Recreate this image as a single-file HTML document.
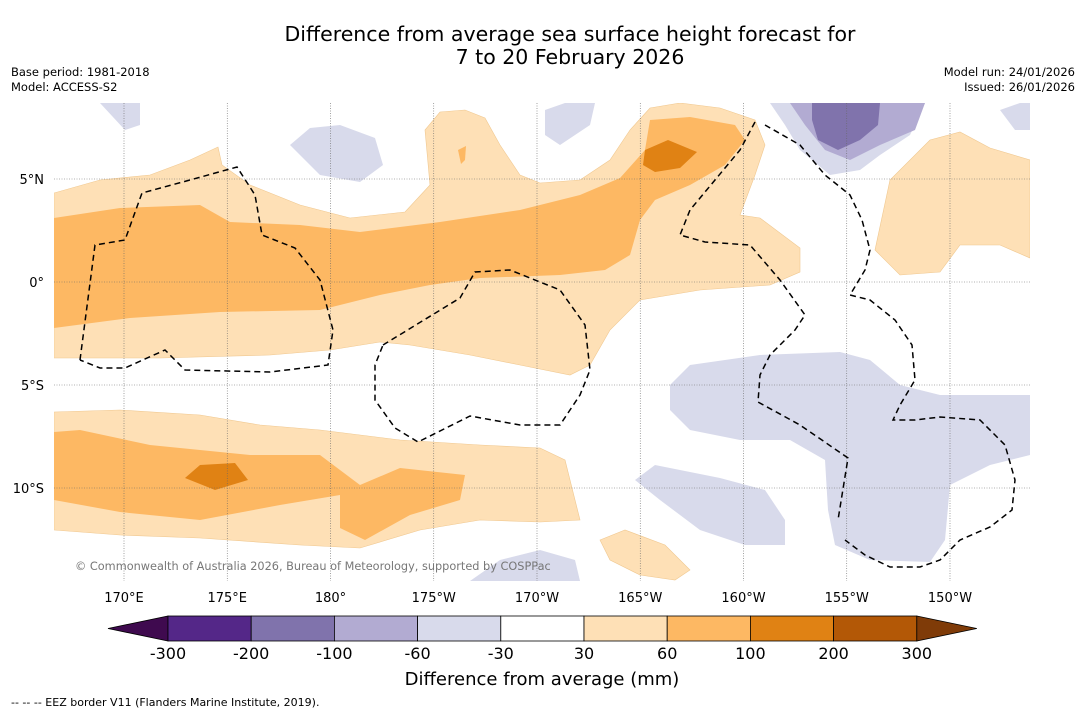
<!DOCTYPE html>
<html><head><meta charset="utf-8"><style>
body{margin:0;background:#fff;font-family:"DejaVu Sans","Liberation Sans",sans-serif;}
svg{display:block}
</style></head><body>
<svg id="root" width="1085" height="713" viewBox="0 0 1085 713" xmlns="http://www.w3.org/2000/svg">
<rect width="1085" height="713" fill="#fff"/>
<text x="570" y="41" font-size="20.5" text-anchor="middle">Difference from average sea surface height forecast for</text>
<text x="570" y="64" font-size="20.5" text-anchor="middle">7 to 20 February 2026</text>
<text x="11" y="76" font-size="11.5">Base period: 1981-2018</text>
<text x="11" y="91" font-size="11.5">Model: ACCESS-S2</text>
<text x="1075" y="76" font-size="11.5" text-anchor="end">Model run: 24/01/2026</text>
<text x="1075" y="91" font-size="11.5" text-anchor="end">Issued: 26/01/2026</text>
<g id="map">
<clipPath id="mc"><rect x="54" y="103" width="976" height="478"/></clipPath>
<g clip-path="url(#mc)">
<g id="fills"></g>
<g id="grid"></g>
<g id="eez" fill="none" stroke="#000" stroke-width="1.5" stroke-dasharray="6,4"></g>
</g>
<text x="75" y="570" font-size="11.3" fill="#777">© Commonwealth of Australia 2026, Bureau of Meteorology, supported by COSPPac</text>
<g id="axes" font-size="13"></g>
</g>
<g id="cbar"></g>
<text x="542" y="685" font-size="18" text-anchor="middle">Difference from average (mm)</text>
<text x="11" y="706" font-size="11">--  --  -- EEZ border V11 (Flanders Marine Institute, 2019).</text>
</svg>
<script>
const levels=[-300,-200,-100,-60,-30,30,60,100,200,300];
const levelColors=["#542788","#8073ac","#b2abd2","#d8daeb","#ffffff","#fee0b6","#fdb863","#e08214","#b35806"];
const lonTicks=[170,175,180,-175,-170,-165,-160,-155,-150];
const lonLabels=["170°E","175°E","180°","175°W","170°W","165°W","160°W","155°W","150°W"];
const latTicks=[5,0,-5,-10];
const latLabels=["5°N","0°","5°S","10°S"];
const NS="http://www.w3.org/2000/svg";
function lx(lon){let l=lon<0?lon+360:lon;return 124+(l-170)*20.65;}
function ly(lat){return 282-lat*20.6;}
function mk(tag,attrs,parent){const e=document.createElementNS(NS,tag);for(const k in attrs)e.setAttribute(k,attrs[k]);parent.appendChild(e);return e;}
const fills=document.getElementById('fills');
const shapes=[
["#fee0b6","54,193 100,180 150,175 190,160 218,147 222,165 250,185 300,205 350,218 405,212 430,185 425,130 440,112 465,110 485,118 500,145 520,175 540,183 580,180 610,160 630,130 650,108 680,103 720,108 755,120 765,145 755,175 740,215 760,218 800,248 800,272 770,285 700,290 640,300 610,330 590,365 570,375 520,365 470,355 410,345 380,342 330,350 270,355 160,358 100,358 54,358"],
["#fdb863","54,218 120,208 200,205 230,222 300,225 360,232 440,222 520,210 580,195 620,178 645,150 650,120 690,117 735,125 745,140 725,165 690,185 655,200 640,220 630,255 605,270 560,275 480,278 430,285 380,295 320,310 220,312 130,318 54,328"],
["#e08214","645,150 668,140 697,152 680,168 655,172 643,165"],
["#fdb863","458,150 466,146 465,160 461,164"],
["#fee0b6","54,412 120,410 200,415 260,425 320,430 400,440 480,445 540,448 565,460 580,520 540,522 480,520 420,530 360,548 300,545 200,538 120,535 54,530"],
["#fdb863","54,432 80,430 150,445 250,455 320,455 360,485 400,468 465,475 460,500 410,515 365,540 340,528 340,495 280,505 200,520 120,512 54,500"],
["#e08214","185,478 200,465 235,463 248,480 215,490"],
["#fee0b6","600,540 625,530 665,545 690,570 675,580 640,575 610,560"],
["#fee0b6","875,250 890,180 930,140 960,132 990,148 1030,160 1030,258 1000,245 960,245 940,272 900,275"],
["#d8daeb","290,145 310,128 340,125 375,138 383,165 360,182 320,175"],
["#d8daeb","545,110 565,103 595,103 590,125 560,145 545,135"],
["#d8daeb","770,103 925,103 910,135 880,155 860,170 830,175 800,150 785,125"],
["#b2abd2","790,103 925,103 915,130 880,145 850,160 825,150 805,125"],
["#8073ac","812,103 880,103 878,125 860,140 838,150 818,140 812,120"],
["#d8daeb","670,385 690,365 760,355 840,352 870,360 900,385 940,395 990,395 1030,395 1030,455 990,465 950,485 945,540 930,562 870,560 835,545 828,510 825,460 790,440 740,440 690,430 670,410"],
["#d8daeb","635,480 655,465 680,470 720,478 765,490 785,520 785,545 745,545 700,530 660,500"],
["#d8daeb","100,103 140,103 140,125 125,130"],
["#d8daeb","1000,110 1020,103 1030,103 1030,130 1015,130"],
["#d8daeb","470,581 500,560 540,550 575,560 580,581"]
];
shapes.forEach((s,i)=>{const p=mk('polygon',{points:s[1],fill:s[0],stroke:s[0]==="#fee0b6"?"#f0c890":"none","stroke-width":0.6},fills);

});
const grid=document.getElementById('grid'),axes=document.getElementById('axes');
lonTicks.forEach((t,i)=>{const x=lx(t);mk('line',{x1:x,x2:x,y1:103,y2:581,stroke:"#666","stroke-width":0.6,"stroke-dasharray":"1,1.5"},grid);
const tx=mk('text',{x:x,y:602,"text-anchor":"middle"},axes);tx.textContent=lonLabels[i];

});
latTicks.forEach((t,i)=>{const y=ly(t);mk('line',{x1:54,x2:1030,y1:y,y2:y,stroke:"#666","stroke-width":0.6,"stroke-dasharray":"1,1.5"},grid);
const tx=mk('text',{x:44,y:y+5,"text-anchor":"end"},axes);tx.textContent=latLabels[i];

});
const eez=document.getElementById('eez');
["80,360 95,245 125,240 142,193 190,180 237,167 255,195 262,235 295,248 320,280 333,330 328,365 270,372 185,370 165,350 125,368 100,368 80,360",
"383,345 460,298 475,272 510,270 560,290 585,325 590,370 580,395 560,425 520,425 470,416 418,442 395,428 375,400 375,365 383,345",
"755,122 740,150 715,180 690,210 680,235 705,242 750,245 780,280 805,315 795,330 770,355 760,375 758,402 800,425 848,458 838,520",
"765,125 800,145 825,175 850,195 862,220 870,250 865,270 850,295 870,300 895,320 912,345 915,380 900,405 893,420 915,420 940,417 980,420 1005,445 1015,480 1012,510 990,527 960,540 940,560 920,567 890,567 865,555 845,540"
].forEach(p=>{const e=mk('polyline',{points:p},eez);

});
const cb=document.getElementById('cbar');
const cx0=168,cw=83.2,cy=616,ch=25;
let t=mk('polygon',{points:`108,${cy+ch/2} ${cx0},${cy} ${cx0},${cy+ch}`,fill:"#3f0a4f",stroke:"#000","stroke-width":0.8},cb);

levelColors.forEach((c,i)=>{const r=mk('rect',{x:cx0+i*cw,y:cy,width:cw,height:ch,fill:c,stroke:"#000","stroke-width":0.8},cb);

});
const xe=cx0+levelColors.length*cw;
t=mk('polygon',{points:`${xe},${cy} ${xe+60},${cy+ch/2} ${xe},${cy+ch}`,fill:"#7f3b08",stroke:"#000","stroke-width":0.8},cb);

levels.forEach((v,i)=>{const tx=mk('text',{x:cx0+i*cw,y:659,"font-size":16,"text-anchor":"middle"},cb);tx.textContent=v;

});
</script>
</body></html>
